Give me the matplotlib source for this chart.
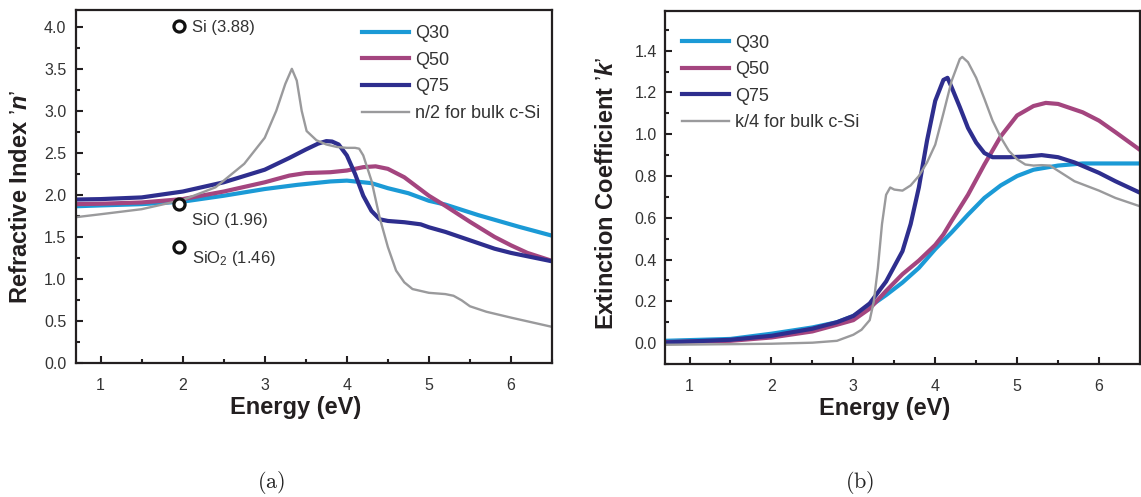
import matplotlib
matplotlib.use("Agg")
import matplotlib.pyplot as plt
from matplotlib.ticker import MultipleLocator

plt.rcParams["font.family"] = ["Liberation Sans", "DejaVu Sans"]
plt.rcParams["mathtext.fontset"] = "custom"
plt.rcParams["mathtext.rm"] = "Liberation Sans"
plt.rcParams["mathtext.it"] = "Liberation Sans:italic:bold"
plt.rcParams["mathtext.bf"] = "Liberation Sans:bold"

# ---- (a) refractive index n ----
e_n_q30 = [0.7, 1.0, 1.5, 2.0, 2.5, 3.0, 3.4, 3.8, 4.0, 4.3, 4.5, 4.75, 5.0, 5.2, 5.6, 6.1, 6.5]
n_q30 = [1.865, 1.875, 1.89, 1.92, 1.99, 2.07, 2.12, 2.16, 2.17, 2.14, 2.08, 2.02, 1.93, 1.885, 1.76, 1.62, 1.515]

e_n_q50 = [0.7, 1.0, 1.5, 2.0, 2.5, 3.0, 3.3, 3.5, 3.8, 4.0, 4.2, 4.35, 4.5, 4.7, 5.0, 5.2, 5.5, 5.8,
           6.0, 6.2, 6.5]
n_q50 = [1.89, 1.895, 1.91, 1.95, 2.04, 2.15, 2.23, 2.26, 2.27, 2.29, 2.33, 2.34, 2.31, 2.21, 1.99, 1.87,
         1.68, 1.50, 1.40, 1.31, 1.215]

e_n_q75 = [0.7, 1.0, 1.5, 2.0, 2.5, 3.0, 3.3, 3.5, 3.65, 3.75, 3.82, 3.9, 4.0, 4.1, 4.2, 4.3, 4.4, 4.5,
           4.7, 4.9, 5.0, 5.2, 5.5, 5.8, 6.0, 6.2, 6.5]
n_q75 = [1.945, 1.95, 1.97, 2.04, 2.15, 2.30, 2.44, 2.54, 2.61, 2.64, 2.635, 2.60, 2.47, 2.25, 1.99,
         1.81, 1.71, 1.69, 1.675, 1.65, 1.615, 1.56, 1.46, 1.36, 1.31, 1.27, 1.21]

e_n_si = [0.7, 1.0, 1.5, 2.0, 2.4, 2.75, 3.0, 3.14, 3.25, 3.33, 3.39, 3.45, 3.51, 3.63, 3.75, 3.88, 4.0,
          4.1, 4.15, 4.2, 4.3, 4.4, 4.5, 4.6, 4.7, 4.8, 5.0, 5.2, 5.3, 5.4, 5.5, 5.7, 6.0, 6.5]
n_si = [1.735, 1.77, 1.83, 1.94, 2.09, 2.37, 2.68, 3.0, 3.32, 3.50, 3.36, 3.0, 2.76, 2.65, 2.60, 2.57,
        2.56, 2.56, 2.55, 2.47, 2.17, 1.73, 1.38, 1.10, 0.96, 0.88, 0.835, 0.82, 0.80, 0.745, 0.675,
        0.61, 0.54, 0.43]

ref_labels = ["Si (3.88)", "SiO (1.96)", r"SiO$_\mathregular{2}$ (1.46)"]
ref_e = [1.96, 1.96, 1.96]
ref_n = [4.01, 1.89, 1.385]
ref_text_y = [3.94, 1.645, 1.185]

# ---- (b) extinction coefficient k ----
e_k_q30 = [0.7, 1.5, 2.0, 2.5, 2.8, 3.0, 3.2, 3.4, 3.6, 3.8, 4.0, 4.2, 4.4, 4.6, 4.8, 5.0, 5.2, 5.5,
           5.8, 6.0, 6.5]
k_q30 = [0.011, 0.02, 0.045, 0.075, 0.10, 0.13, 0.175, 0.23, 0.29, 0.36, 0.45, 0.53, 0.615, 0.695,
         0.755, 0.80, 0.83, 0.85, 0.86, 0.86, 0.86]

e_k_q50 = [0.7, 1.5, 2.0, 2.5, 2.8, 3.0, 3.2, 3.4, 3.6, 3.8, 4.0, 4.1, 4.2, 4.4, 4.6, 4.8, 5.0, 5.2,
           5.35, 5.5, 5.8, 6.0, 6.2, 6.5]
k_q50 = [0.005, 0.011, 0.027, 0.056, 0.088, 0.11, 0.165, 0.25, 0.33, 0.395, 0.47, 0.52, 0.585, 0.71,
         0.855, 0.99, 1.09, 1.135, 1.15, 1.145, 1.105, 1.065, 1.01, 0.925]

e_k_q75 = [0.7, 1.5, 2.0, 2.5, 2.8, 3.0, 3.2, 3.4, 3.6, 3.7, 3.8, 3.9, 4.0, 4.1, 4.15, 4.2, 4.3, 4.4,
           4.5, 4.6, 4.7, 4.9, 5.1, 5.3, 5.5, 5.7, 6.0, 6.2, 6.5]
k_q75 = [0.003, 0.016, 0.035, 0.069, 0.10, 0.13, 0.19, 0.295, 0.44, 0.57, 0.745, 0.97, 1.16, 1.26,
         1.27, 1.225, 1.13, 1.03, 0.96, 0.91, 0.89, 0.89, 0.893, 0.90, 0.89, 0.865, 0.815, 0.775, 0.72]

e_k_si = [0.7, 1.5, 2.0, 2.5, 2.8, 3.0, 3.1, 3.2, 3.25, 3.3, 3.35, 3.4, 3.45, 3.5, 3.6, 3.7, 3.8, 3.9,
          4.0, 4.1, 4.2, 4.3, 4.33, 4.4, 4.5, 4.6, 4.7, 4.8, 4.9, 5.0, 5.1, 5.2, 5.3, 5.4, 5.5, 5.7,
          6.0, 6.2, 6.5]
k_si = [-0.008, -0.005, -0.003, 0.002, 0.011, 0.04, 0.064, 0.11, 0.20, 0.36, 0.57, 0.71, 0.745, 0.735,
        0.73, 0.755, 0.80, 0.865, 0.95, 1.10, 1.255, 1.36, 1.37, 1.345, 1.27, 1.17, 1.065, 0.985, 0.92,
        0.88, 0.855, 0.85, 0.852, 0.85, 0.825, 0.775, 0.73, 0.695, 0.655]

C_Q30 = "#1b9ad6"
C_Q50 = "#a4457f"
C_Q75 = "#2e2e8e"
C_SI = "#9a9a9c"
INK = "#231f20"


def style_axes(ax, ylabel, ypad, ylabel_pos):
    for side in ("top", "right", "bottom", "left"):
        ax.spines[side].set_linewidth(1.6)
        ax.spines[side].set_color(INK)
    ax.tick_params(which="both", direction="in", top=False, right=False, width=1.5,
                   color=INK, labelcolor="#333333", labelsize=11.5)
    ax.tick_params(which="major", length=5)
    ax.tick_params(which="minor", length=3)
    ax.tick_params(axis="y", pad=ypad)
    ax.tick_params(axis="x", pad=11)
    ax.set_xlim(0.7, 6.5)
    ax.xaxis.set_major_locator(MultipleLocator(1))
    ax.xaxis.set_minor_locator(MultipleLocator(0.5))
    ax.set_xlabel("Energy (eV)", fontsize=17, fontweight="bold", color=INK, va="center")
    ax.xaxis.set_label_coords(0.462, -0.127)
    ax.set_ylabel(ylabel, fontsize=17, fontweight="bold", color=INK, va="center")
    ax.yaxis.set_label_coords(*ylabel_pos)


def add_legend(ax, anchor):
    ax.legend(loc="upper left", bbox_to_anchor=anchor, frameon=False, fontsize=13,
              handlelength=2.6, handletextpad=0.35, labelspacing=0.53, borderaxespad=0,
              borderpad=0, labelcolor="#333333")


fig = plt.figure(figsize=(11.41, 4.97), dpi=100)

# panel (a)
ax1 = fig.add_axes([0.0666, 0.2696, 0.4172, 0.7103])
ax1.plot(e_n_q30, n_q30, color=C_Q30, lw=3.0, label="Q30")
ax1.plot(e_n_q50, n_q50, color=C_Q50, lw=3.0, label="Q50")
ax1.plot(e_n_q75, n_q75, color=C_Q75, lw=3.0, label="Q75")
ax1.plot(e_n_si, n_si, color=C_SI, lw=1.7, label="n/2 for bulk c-Si")
ax1.plot(ref_e, ref_n, "o", ms=8, mfc="white", mec="#111111", mew=2.3, zorder=5)
for lab, ty in zip(ref_labels, ref_text_y):
    ax1.text(2.11, ty, lab, fontsize=12, color="#333333", va="baseline", ha="left")
ax1.set_ylim(0, 4.2)
ax1.yaxis.set_major_locator(MultipleLocator(0.5))
ax1.yaxis.set_minor_locator(MultipleLocator(0.25))
ax1.yaxis.set_major_formatter(lambda v, p: f"{v:.1f}")
style_axes(ax1, r"Refractive Index $\mathit{’n’}$", 7, (-0.116, 0.47))
add_legend(ax1, (0.60, 0.957))

# panel (b)
ax2 = fig.add_axes([0.5828, 0.2676, 0.4163, 0.7103])
ax2.plot(e_k_q30, k_q30, color=C_Q30, lw=3.0, label="Q30")
ax2.plot(e_k_q50, k_q50, color=C_Q50, lw=3.0, label="Q50")
ax2.plot(e_k_q75, k_q75, color=C_Q75, lw=3.0, label="Q75")
ax2.plot(e_k_si, k_si, color=C_SI, lw=1.7, label="k/4 for bulk c-Si")
ax2.set_ylim(-0.1, 1.59)
ax2.yaxis.set_major_locator(MultipleLocator(0.2))
ax2.yaxis.set_minor_locator(MultipleLocator(0.1))
ax2.yaxis.set_major_formatter(lambda v, p: f"{v:.1f}")
style_axes(ax2, r"Extinction Coefficient $\mathit{’k’}$", 6, (-0.124, 0.485))
add_legend(ax2, (0.036, 0.933))

fig.text(0.2375, 0.03, r"$\mathrm{(a)}$", fontsize=16, ha="center", va="center",
         math_fontfamily="cm", color="#222222")
fig.text(0.7537, 0.03, r"$\mathrm{(b)}$", fontsize=16, ha="center", va="center",
         math_fontfamily="cm", color="#222222")

fig.savefig("out.png", dpi=100)
